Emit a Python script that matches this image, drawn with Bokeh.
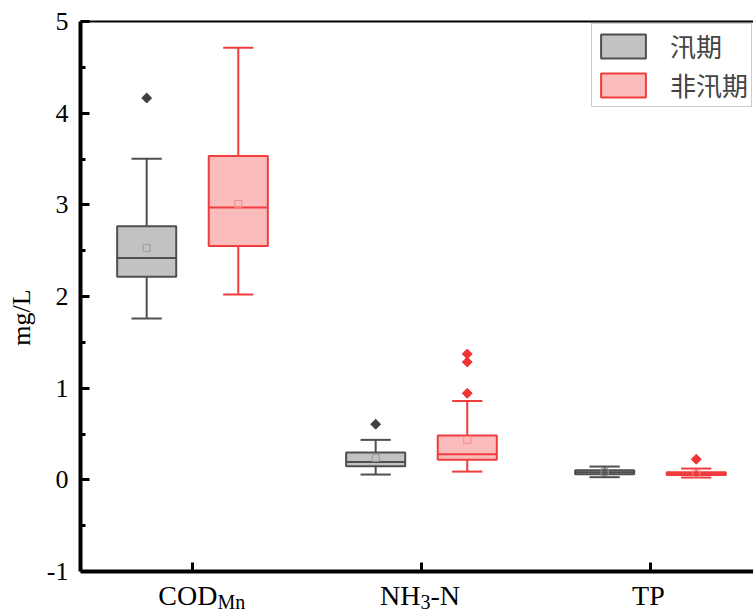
import numpy as np
from bokeh.plotting import figure
from bokeh.models import FixedTicker, LinearAxis, Label, Legend, LegendItem, Range1d
from bokeh.embed import file_html
from bokeh.resources import INLINE

# ---------------- data ----------------
categories = ["COD_Mn", "NH3-N", "TP"]
series_names = ["汛期", "非汛期"]

# 汛期 (flood season)
flood_lo = [1.76, 0.058, 0.029]
flood_q1 = [2.215, 0.149, 0.062]
flood_med = [2.42, 0.196, 0.082]
flood_q3 = [2.767, 0.298, 0.106]
flood_hi = [3.504, 0.436, 0.145]
flood_mean = [2.53, 0.24, 0.085]
flood_out_cat = [0, 1]
flood_out_val = [4.165, 0.607]

# 非汛期 (non-flood season)
dry_lo = [2.023, 0.09, 0.025]
dry_q1 = [2.552, 0.218, 0.054]
dry_med = [2.97, 0.28, 0.066]
dry_q3 = [3.533, 0.483, 0.084]
dry_hi = [4.713, 0.86, 0.123]
dry_mean = [3.01, 0.436, 0.07]
dry_out_cat = [1, 1, 1, 2]
dry_out_val = [1.373, 1.285, 0.944, 0.225]

y_ticks = [-1, 0, 1, 2, 3, 4, 5]
y_tick_labels = ["-1", "0", "1", "2", "3", "4", "5"]
y_minor = [-0.5, 0.5, 1.5, 2.5, 3.5, 4.5]

# ---------------- figure ----------------
SERIF = "Liberation Serif"
Y_MIN, Y_MAX = -1, 5
p = figure(width=753, height=613,
           x_range=Range1d(0.511, 3.450), y_range=Range1d(-1.458, Y_MAX),
           output_backend="svg", toolbar_location=None,
           min_border_left=80, min_border_right=0,
           min_border_top=21, min_border_bottom=0)
p.grid.visible = False
p.outline_line_color = None
p.background_fill_color = "white"
p.border_fill_color = "white"

xpos = np.arange(1, len(categories) + 1)

# bottom axis drawn at y = -1 inside the frame (labels are drawn separately)
p.xaxis.fixed_location = Y_MIN
p.xaxis.ticker = FixedTicker(ticks=list(xpos))
p.xaxis.major_label_text_font_size = "0px"
p.xaxis.major_label_text_color = None
p.xaxis.axis_line_width = 4
p.xaxis.major_tick_in = 9
p.xaxis.major_tick_out = 0
p.xaxis.major_tick_line_width = 3
p.xaxis.minor_tick_line_color = None
p.xaxis.major_label_standoff = 0

p.yaxis.bounds = (Y_MIN, Y_MAX)
p.yaxis.ticker = FixedTicker(ticks=y_ticks, minor_ticks=y_minor)
p.yaxis.major_label_overrides = {t: l for t, l in zip(y_ticks, y_tick_labels)}
p.yaxis.axis_line_width = 4
p.yaxis.major_tick_in = 9
p.yaxis.major_tick_out = 0
p.yaxis.minor_tick_in = 5
p.yaxis.minor_tick_out = 0
p.yaxis.major_tick_line_width = 3
p.yaxis.minor_tick_line_width = 3
p.yaxis.major_label_text_font = SERIF
p.yaxis.major_label_text_font_size = "26px"
p.yaxis.major_label_text_color = "black"
p.yaxis.major_label_standoff = 12
p.yaxis.axis_label = "mg/L"
p.yaxis.axis_label_text_font = SERIF
p.yaxis.axis_label_text_font_size = "26px"
p.yaxis.axis_label_text_font_style = "normal"
p.yaxis.axis_label_text_color = "black"
p.yaxis.axis_label_standoff = 8

top_axis = LinearAxis(ticker=FixedTicker(ticks=[]), major_label_text_font_size="0px",
                      major_label_text_color=None,
                      axis_line_width=2, major_tick_line_color=None,
                      minor_tick_line_color=None, major_label_standoff=0)
p.add_layout(top_axis, "above")

# ---------------- boxes ----------------
OFF = 0.2
BOX_W = 0.258
CAP_HW = 0.066


def draw_box(xs, lo, q1, med, q3, hi, mean, out_cat, out_val,
             line, fill, mean_col, out_col):
    p.segment(xs, hi, xs, q3, line_color=line, line_width=2)
    p.segment(xs, lo, xs, q1, line_color=line, line_width=2)
    p.segment(xs - CAP_HW, hi, xs + CAP_HW, hi, line_color=line, line_width=2)
    p.segment(xs - CAP_HW, lo, xs + CAP_HW, lo, line_color=line, line_width=2)
    box = p.vbar(x=xs, width=BOX_W, top=q3, bottom=q1, fill_color=fill,
                 line_color=line, line_width=2)
    p.segment(xs - BOX_W / 2, med, xs + BOX_W / 2, med, line_color=line, line_width=2)
    p.scatter(xs, mean, marker="square", size=7, fill_alpha=0,
              line_color=mean_col, line_width=1)
    ox = np.array(out_cat) + 1 + (xs[0] - xpos[0])
    p.scatter(ox, out_val, marker="square", angle=np.pi / 4, size=7,
              fill_color=out_col, line_color=out_col)
    return box


b1 = draw_box(xpos - OFF, np.array(flood_lo), flood_q1, flood_med, flood_q3, flood_hi,
              flood_mean, flood_out_cat, flood_out_val,
              "#4f4f4f", "#c2c2c2", "#9a9a9a", "#404040")
b2 = draw_box(xpos + OFF, np.array(dry_lo), dry_q1, dry_med, dry_q3, dry_hi,
              dry_mean, dry_out_cat, dry_out_val,
              "#f03c3c", "#fbbcbc", "#f08a8a", "#ee3434")

# ---------------- legend ----------------
legend = Legend(items=[LegendItem(label=series_names[0], renderers=[b1]),
                       LegendItem(label=series_names[1], renderers=[b2])],
                location=(511, 506), orientation="vertical",
                glyph_width=56, glyph_height=30, label_height=30,
                spacing=2, padding=3, margin=0, label_standoff=19,
                label_text_font="Noto Sans CJK SC", label_text_font_size="26px",
                label_text_line_height=0.6,
                border_line_color="#9a9a9a", border_line_width=1,
                background_fill_color="white", background_fill_alpha=1)
p.add_layout(legend)

# ---------------- category labels with subscripts ----------------
MAIN_Y = -1.267
SUB_Y = -1.338
lab_font = "28px"
sub_font = "20px"


def add_label(x, text, align, dx, y, size):
    p.add_layout(Label(x=x, y=y, text=text, text_align=align, text_baseline="middle",
                       x_offset=dx, text_font=SERIF, text_font_size=size,
                       text_color="black"))


add_label(xpos[0], "COD", "right", 25, MAIN_Y, lab_font)
add_label(xpos[0], "Mn", "left", 25, SUB_Y, sub_font)
add_label(xpos[1], "NH", "right", -1, MAIN_Y, lab_font)
add_label(xpos[1], "3", "left", -1, SUB_Y, sub_font)
add_label(xpos[1], "-N", "left", 9, MAIN_Y, lab_font)
add_label(xpos[2], "TP", "center", -2, MAIN_Y, lab_font)

open("out.html", "w").write(file_html(p, INLINE))
